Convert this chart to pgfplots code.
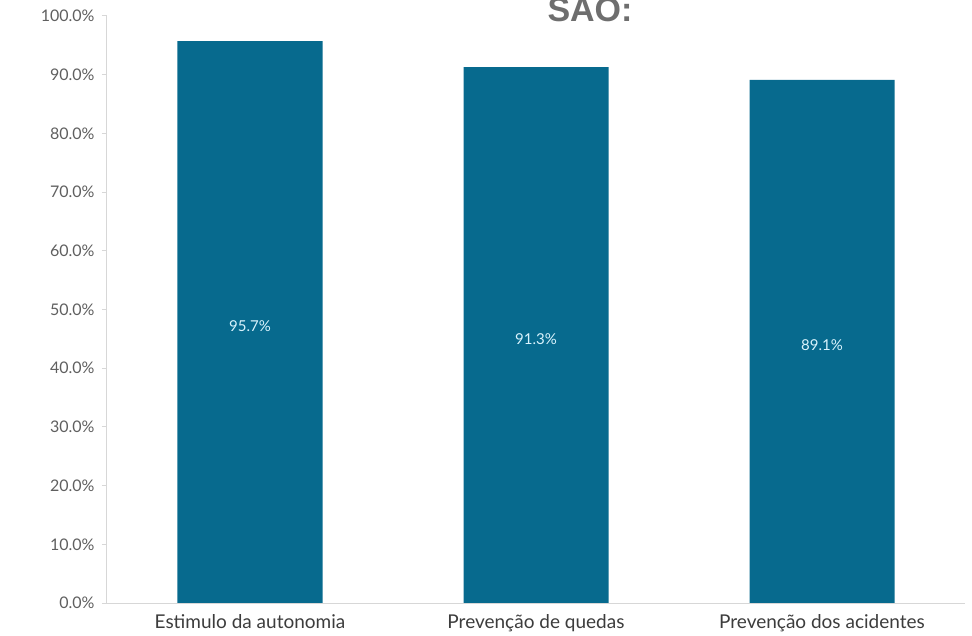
\documentclass[border=0pt]{standalone}
\usepackage{pgfplots}
\pgfplotsset{compat=1.18}
\usepackage{pgfplotstable}
\usepackage{fontspec}
\setmainfont{Lato}
\newfontfamily\titlefont{Liberation Sans}
\definecolor{barc}{RGB}{7,106,142}
\definecolor{tickc}{RGB}{95,95,95}
\definecolor{catc}{RGB}{60,60,60}
\definecolor{axc}{RGB}{215,215,215}
\pgfplotstableread{
x y
0 95.7
1 91.3
2 89.1
}\data
\begin{document}
\begin{tikzpicture}
\begin{axis}[
  name=ax,
  scale only axis,
  width=858bp, height=587bp,
  xmin=-0.5, xmax=2.5, ymin=0, ymax=100,
  axis lines*=left,
  axis line style={axc, line width=1bp},
  xtick={0,1,2},
  xticklabels={Estimulo da autonomia, Prevenção de quedas, Prevenção dos acidentes},
  x tick label style={font=\fontsize{19bp}{22bp}\selectfont, text=catc, yshift=-3bp},
  major x tick style={draw=none},
  extra x ticks={0.5,1.5,2.5},
  extra x tick labels={},
  extra x tick style={major tick length=7bp, tick style={axc, line width=1bp}},
  ytick={0,10,...,100},
  yticklabel={\pgfmathprintnumber[fixed,fixed zerofill,precision=1,assume math mode=true]{\tick}\%},
  y tick label style={font=\fontsize{16bp}{18bp}\selectfont, text=tickc, xshift=-4bp},
  tick align=outside,
  major tick length=5bp,
  tick style={axc, line width=1bp},
]
\addplot[ybar, bar width=145bp, fill=barc, draw=none] table[x=x, y=y] {\data};
\addplot[draw=none, mark=none, point meta=explicit,
  nodes near coords={\pgfmathprintnumber[fixed,fixed zerofill,precision=1,assume math mode=true]{\pgfplotspointmeta}\%},
  every node near coord/.append style={anchor=center, yshift=-4bp, text=white!85!cyan, font=\fontsize{15bp}{18bp}\selectfont}]
  table[x=x, y expr=\thisrow{y}/2, meta=y] {\data};
\end{axis}
\node[anchor=base, font=\titlefont\bfseries\fontsize{34bp}{40bp}\selectfont, text={rgb,255:red,110;green,110;blue,110}]
  at ([xshift=483bp, yshift=-6bp]ax.north west) {SÃO:};
\pgfresetboundingbox
\path ([xshift=-107bp,yshift=-33bp]ax.south west) rectangle ([xshift=7bp,yshift=16bp]ax.north east);
\end{tikzpicture}
\end{document}
